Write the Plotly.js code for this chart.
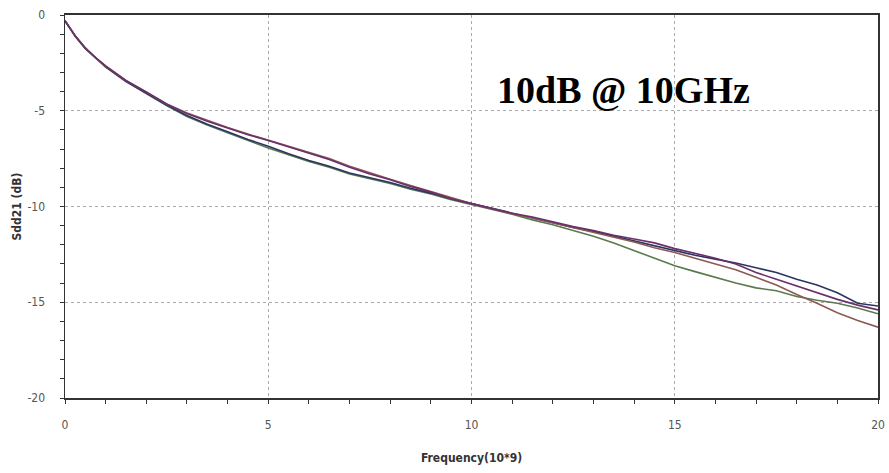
<!DOCTYPE html>
<html>
<head>
<meta charset="utf-8">
<script src="https://cdn.plot.ly/plotly-3.0.1.min.js"></script>
<style>html,body{margin:0;padding:0;background:#fff;}#chart{width:889px;height:473px;}</style>
</head>
<body>
<div id="chart"></div>
<script>
const freq = [0,0.1,0.25,0.5,0.75,1,1.5,2,2.5,3,3.5,4,4.5,5,5.5,6,6.5,7,7.5,8,8.5,9,9.5,10,10.5,11,11.5,12,12.5,13,13.5,14,14.5,15,15.5,16,16.5,17,17.5,18,18.5,19,19.5,20];

const sddPurple = [-0.3,-0.62,-1.08,-1.72,-2.22,-2.66,-3.42,-4.02,-4.64,-5.15,-5.55,-5.9,-6.25,-6.55,-6.88,-7.2,-7.55,-7.95,-8.3,-8.6,-8.95,-9.25,-9.6,-9.85,-10.1,-10.35,-10.55,-10.8,-11.05,-11.25,-11.5,-11.7,-11.9,-12.2,-12.45,-12.7,-13.0,-13.45,-13.8,-14.15,-14.5,-14.85,-15.15,-15.4];
const sddBrown  = [-0.3,-0.63,-1.09,-1.73,-2.23,-2.67,-3.43,-4.03,-4.65,-5.12,-5.52,-5.88,-6.22,-6.55,-6.85,-7.18,-7.5,-7.9,-8.25,-8.58,-8.9,-9.22,-9.55,-9.85,-10.12,-10.38,-10.6,-10.85,-11.1,-11.35,-11.6,-11.85,-12.15,-12.4,-12.7,-13.0,-13.3,-13.7,-14.1,-14.6,-15.05,-15.55,-15.95,-16.3];
const sddNavy   = [-0.3,-0.64,-1.1,-1.75,-2.25,-2.7,-3.46,-4.07,-4.7,-5.25,-5.7,-6.1,-6.5,-6.85,-7.25,-7.6,-7.9,-8.25,-8.5,-8.75,-9.05,-9.3,-9.6,-9.85,-10.1,-10.35,-10.6,-10.85,-11.1,-11.3,-11.55,-11.8,-12.05,-12.3,-12.55,-12.75,-12.95,-13.2,-13.45,-13.8,-14.1,-14.5,-15.05,-15.2];
const sddGreen  = [-0.3,-0.65,-1.11,-1.76,-2.26,-2.72,-3.48,-4.1,-4.73,-5.3,-5.75,-6.15,-6.55,-6.95,-7.3,-7.65,-7.95,-8.3,-8.55,-8.8,-9.1,-9.35,-9.65,-9.9,-10.15,-10.4,-10.7,-10.95,-11.25,-11.55,-11.9,-12.3,-12.7,-13.1,-13.4,-13.7,-14.0,-14.25,-14.4,-14.7,-14.9,-15.05,-15.3,-15.6];

const xTicks = [0,5,10,15,20];
const yTicks = [0,-5,-10,-15,-20];
const annText = "10dB @ 10GHz";

function tr(y, color){
  return {x: freq, y: y, type:'scatter', mode:'lines', line:{color:color, width:1.6}, hoverinfo:'skip', showlegend:false};
}

const data = [
  tr(sddGreen, '#5a7a4e'),
  tr(sddNavy, '#2a3560'),
  tr(sddBrown, '#8c5a52'),
  tr(sddPurple, '#6b2f6e')
];

const narrow = '"Liberation Sans Narrow", "DejaVu Sans Condensed", Arial, sans-serif';
const tickFont = {family:narrow, size:12, color:'#555'};

const layout = {
  width: 889, height: 473,
  margin: {l:65, r:11, t:15, b:75},
  paper_bgcolor:'#fff', plot_bgcolor:'#fff',
  xaxis: {
    range:[0,20], tickvals:xTicks, ticktext:xTicks.map(String),
    showgrid:true, gridcolor:'#aaaaaa', griddash:'dot', gridwidth:1,
    zeroline:false, showline:true, linecolor:'#333', linewidth:2, mirror:true,
    ticks:'outside', ticklen:4, tickcolor:'#333',
    minor:{dtick:1, ticks:'outside', ticklen:4, tickcolor:'#333', showgrid:false},
    tickfont: tickFont, ticklabelstandoff: 11,
    title:{text:'<b>Frequency(10*9)</b>', font:{family:narrow, size:12, color:'#333'}, standoff:22}
  },
  yaxis: {
    range:[-20,0], tickvals:yTicks, ticktext:yTicks.map(String),
    showgrid:true, gridcolor:'#aaaaaa', griddash:'dot', gridwidth:1,
    zeroline:false, showline:true, linecolor:'#333', linewidth:1.5, mirror:true,
    ticks:'outside', ticklen:4, tickcolor:'#333',
    minor:{dtick:1, ticks:'outside', ticklen:4, tickcolor:'#333', showgrid:false},
    tickfont: tickFont, ticklabelstandoff: 12,
    title:{text:'<b>Sdd21 (dB)</b>', font:{family:narrow, size:12, color:'#333'}, standoff:3}
  },
  annotations:[{
    x:13.75, y:-3.9, xref:'x', yref:'y', text:'<b>'+annText+'</b>', showarrow:false,
    font:{family:'"Liberation Serif", "Times New Roman", serif', size:38, color:'#000'}
  }]
};

Plotly.newPlot('chart', data, layout, {displayModeBar:false, staticPlot:true});
</script>
</body>
</html>
